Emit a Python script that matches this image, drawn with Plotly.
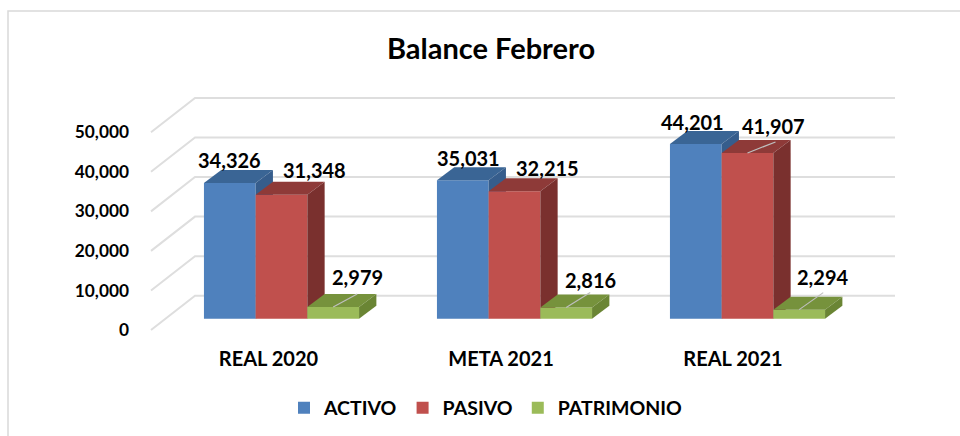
import plotly.graph_objects as go

categories = ["REAL 2020", "META 2021", "REAL 2021"]
activo = [34326, 35031, 44201]
pasivo = [31348, 32215, 41907]
patrimonio = [2979, 2816, 2294]
series_names = ["ACTIVO", "PASIVO", "PATRIMONIO"]
axis_ticks = [0, 10000, 20000, 30000, 40000, 50000]

front_colors = ["#4F81BD", "#C0504D", "#9BBB59"]
top_colors = ["#3A6595", "#8E3A38", "#76923C"]
side_colors = ["#365D8C", "#7A302E", "#6A8534"]

W, H = 960, 436
PL, PR, PT, PB = 135, 905, 88, 345          # plot area in the page
CAT_PX, CAT_STEP = 281.5, 233.0             # axis scale: first category, px per category
BASE_PX, PX_PER_UNIT = 318.7, 3.955 / 1000  # axis scale: zero line, px per value

def ux(px):   # horizontal px distance to x units
    return px / CAT_STEP
def uy(px):   # vertical px distance to y units
    return px / PX_PER_UNIT

x_range = [(PL - CAT_PX) / CAT_STEP, (PR - CAT_PX) / CAT_STEP]
y_range = [(BASE_PX - PB) / PX_PER_UNIT, (BASE_PX - PT) / PX_PER_UNIT]

series = [activo, pasivo, patrimonio]
positions = list(range(len(categories)))
bar_w = ux(51.7)
depth_x, depth_y = ux(17.3), uy(13)
wall_y, floor_y = uy(23), uy(-11.3)
wall_x0, wall_x1 = (151 - CAT_PX) / CAT_STEP, (195 - CAT_PX) / CAT_STEP
wall_x2 = (895 - CAT_PX) / CAT_STEP

# label offsets from the bar's top-centre, in px: series -> category -> (dx, dy up)
label_offsets = [
    [(0, 23), (6, 22), (-3, 22)],
    [(33, 25), (33, 23), (26, 27)],
    [(24, 30), (24, 28), (23, 33)],
]
# leader lines: series, category, dx, dy up
leaders = [(2, 0, 24, 13), (2, 1, 24, 15), (2, 2, 24, 17), (1, 2, 28, 11)]
cat_label_shift = [-13, -13.5, -14.5]

fig = go.Figure()

# wall + floor grid on the base layer
for t in axis_ticks:
    fig.add_trace(go.Scatter(
        x=[wall_x0, wall_x1, wall_x2],
        y=[t + floor_y, t + wall_y, t + wall_y],
        mode="lines", line=dict(color="#DEDEDE", width=2),
        showlegend=False, hoverinfo="skip", xaxis="x", yaxis="y"))

for s, (name, vals) in enumerate(zip(series_names, series)):
    xa, ya = f"x{s + 2}", f"y{s + 2}"
    off = (s - 1.5) * bar_w
    fig.add_trace(go.Bar(
        x=positions, y=vals, width=bar_w, offset=off, name=name,
        marker=dict(color=front_colors[s], line=dict(width=0)),
        xaxis=xa, yaxis=ya, hoverinfo="skip"))
    for p, v in zip(positions, vals):
        l, r = p + off, p + off + bar_w
        fig.add_trace(go.Scatter(
            x=[l, r, r + depth_x, l + depth_x, l],
            y=[v, v, v + depth_y, v + depth_y, v],
            mode="lines", fill="toself", fillcolor=top_colors[s],
            line=dict(width=0), showlegend=False, hoverinfo="skip",
            xaxis=xa, yaxis=ya))
        fig.add_trace(go.Scatter(
            x=[r, r + depth_x, r + depth_x, r, r],
            y=[0, depth_y, v + depth_y, v, 0],
            mode="lines", fill="toself", fillcolor=side_colors[s],
            line=dict(width=0), showlegend=False, hoverinfo="skip",
            xaxis=xa, yaxis=ya))

for s, c, dx, dy in leaders:
    cx = positions[c] + (s - 1) * bar_w
    v = series[s][c]
    fig.add_trace(go.Scatter(
        x=[cx, cx + ux(dx)], y=[v, v + uy(dy)],
        mode="lines", line=dict(color="#BFBFBF", width=1.2),
        showlegend=False, hoverinfo="skip", xaxis="x4", yaxis="y4"))

annotations = []
for s, vals in enumerate(series):
    for c, v in enumerate(vals):
        dx, dy = label_offsets[s][c]
        annotations.append(dict(
            x=positions[c] + (s - 1) * bar_w, y=v, xref="x4", yref="y4",
            xshift=dx, yshift=dy, text=f"{v:,}", showarrow=False,
            font=dict(family="Lato", size=20, color="#000000", weight="bold"),
            xanchor="center", yanchor="middle"))

axis_common = dict(range=x_range, showgrid=False, zeroline=False)
layout = dict(
    width=W, height=H, margin=dict(l=PL, r=W - PR, t=PT, b=H - PB, pad=0),
    paper_bgcolor="white", plot_bgcolor="white", barmode="overlay",
    font=dict(family="Lato", color="#000000"),
    title=dict(text="<b>Balance Febrero</b>", x=491 / W, xanchor="center",
               y=1 - 49 / H, yanchor="middle",
               font=dict(family="Lato", size=29, color="#000000")),
    xaxis=dict(range=x_range, showgrid=False, zeroline=False, showline=False,
               tickvals=[p + ux(d) for p, d in zip(positions, cat_label_shift)],
               ticktext=categories, ticks="", ticklabelstandoff=0,
               tickfont=dict(family="Lato", size=20, color="#000000", weight="bold")),
    yaxis=dict(range=y_range, showgrid=False, zeroline=False, showline=False,
               tickvals=[t + floor_y for t in axis_ticks],
               ticktext=[f"{t:,}" for t in axis_ticks], ticks="", ticklabelstandoff=5,
               tickfont=dict(family="Lato", size=17.3, color="#000000", weight="bold")),
    legend=dict(orientation="h", x=284 / W, xanchor="left", xref="container",
                y=1 - 408 / H, yanchor="middle", yref="container",
                font=dict(family="Lato", size=19.5, color="#000000", weight="bold"),
                itemwidth=30, traceorder="normal", bgcolor="rgba(0,0,0,0)"),
    annotations=annotations,
    shapes=[dict(type="rect", xref="paper", yref="paper", layer="below",
                 x0=(8 - PL) / (PR - PL), x1=(975 - PL) / (PR - PL),
                 y0=(PB - 450) / (PB - PT), y1=(PB - 11) / (PB - PT),
                 line=dict(color="#D9D9D9", width=1.5), fillcolor="rgba(0,0,0,0)")],
)
for s in range(3):
    n = s + 2
    layout[f"xaxis{n}"] = dict(axis_common, overlaying="x", visible=False)
    layout[f"yaxis{n}"] = dict(range=y_range, overlaying="y", visible=False,
                               showgrid=False, zeroline=False)
fig.update_layout(**layout)
fig.write_html("out.html", post_script="document.body.style.margin='0';",
               config={"displayModeBar": False})
